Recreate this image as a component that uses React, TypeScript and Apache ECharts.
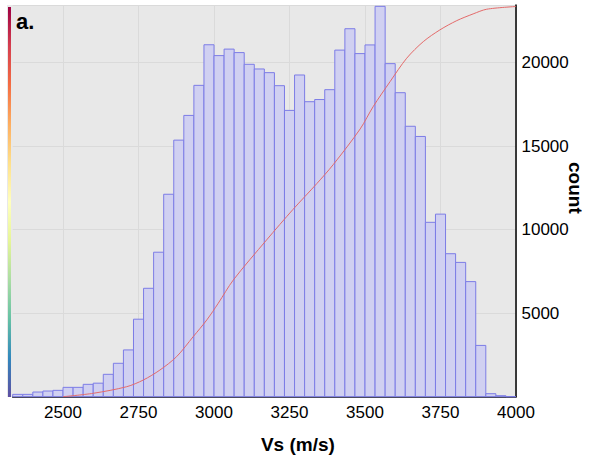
import React, { useEffect, useRef } from "react";
import * as echarts from "echarts";

// Histogram bins: 50 bins of width 33.33 m/s starting at 2333.33
const binStart = 2333.33;
const binWidth = 33.3334;
const counts = [
  140, 140, 280, 340, 380, 560, 560, 740, 810, 1340,
  2000, 2800, 4640, 6490, 8650, 12120, 15360, 16840, 18640, 21070,
  20420, 20810, 20600, 19900, 19620, 19400, 18620, 17140, 19260, 17660,
  17790, 18380, 20750, 22030, 20540, 21060, 23370, 19940, 18200, 16190,
  15580, 10440, 10930, 8560, 8040, 6890, 3070, 180, 60, 0,
];

// Cumulative curve
const cdfX = [2500, 2600, 2711, 2766, 2821, 2876, 2931, 2976, 3014, 3064, 3174, 3262, 3340, 3395, 3484, 3527, 3583, 3638, 3693, 3748, 3804, 3858, 3903, 4000];
const cdfY = [0, 204, 599, 1000, 1599, 2395, 3593, 4593, 5593, 6988, 9383, 11220, 12750, 13900, 16030, 17365, 18862, 20263, 21257, 21960, 22515, 22916, 23197, 23360];

const xTicks = [2500, 2750, 3000, 3250, 3500, 3750, 4000];
const xMin = 2333.33;
const xMax = 4000;
const yMax = 23450;
const yStep = 5000;

const spectral = ["#9e0142", "#d53e4f", "#f46d43", "#fdae61", "#fee08b", "#ffffbf", "#e6f598", "#abdda4", "#66c2a5", "#3288bd", "#5e4fa2"];

export default function App() {
  const ref = useRef<HTMLDivElement>(null);
  useEffect(() => {
    const chart = echarts.init(ref.current!, null, { renderer: "svg" });
    const bars = counts.map((c, i) => [binStart + i * binWidth, binStart + (i + 1) * binWidth, c]);
    const line = cdfX.map((x, i) => [x, cdfY[i]]);
    const font = "Liberation Sans";
    const fmt = (v: number) => String(Math.round(v));
    chart.setOption({
      animation: false,
      grid: {
        left: 12.7, right: 78, top: 5, bottom: 63.3,
        outerBoundsMode: "none", containLabel: false,
        show: true, backgroundColor: "#e8e8e8", borderWidth: 0,
      },
      xAxis: {
        type: "value", min: xMin, max: xMax,
        axisLine: { show: true, lineStyle: { color: "#000", width: 1.5 } },
        axisTick: { show: false, customValues: xTicks },
        axisLabel: { customValues: xTicks, formatter: fmt, fontSize: 17, color: "#000", fontFamily: font, margin: 7 },
        splitLine: { show: true, lineStyle: { color: "#dadada", width: 1 } },
        name: "Vs (m/s)", nameLocation: "middle", nameGap: 38,
        nameTextStyle: { fontSize: 19, fontWeight: "bold", color: "#000", fontFamily: font, padding: [0, 0, 0, 67] },
      },
      yAxis: {
        type: "value", position: "right", min: 0, max: yMax, interval: yStep,
        axisLine: { show: true, lineStyle: { color: "#000", width: 1.5 } },
        axisTick: { show: false },
        axisLabel: { formatter: fmt, fontSize: 17, color: "#000", fontFamily: font, margin: 5.5, showMinLabel: false, showMaxLabel: false },
        splitLine: { show: true, lineStyle: { color: "#dadada", width: 1 } },
        name: "count", nameLocation: "middle", nameRotate: -90, nameGap: 50, nameMoveOverlap: false,
        nameTextStyle: { fontSize: 19, fontWeight: "bold", color: "#000", fontFamily: font, padding: [0, 26, 0, 0] },
      },
      graphic: [
        { type: "rect", z: -1, shape: { x: 7, y: 5, width: 6, height: 392 }, style: { fill: "#e8e8e8" } },
        {
          type: "rect", z: 10, shape: { x: 8, y: 7, width: 3, height: 390 },
          style: {
            fill: new echarts.graphic.LinearGradient(0, 0, 0, 1,
              spectral.map((c, i) => ({ offset: i / (spectral.length - 1), color: c }))),
          },
        },
        {
          type: "text", z: 10, x: 16, y: 21,
          style: { text: "a.", fontSize: 22, fontWeight: "bold", fontFamily: font, fill: "#000", verticalAlign: "middle" },
        },
      ],
      series: [
        {
          type: "custom",
          data: bars,
          encode: { x: [0, 1], y: 2 },
          renderItem: (params: any, api: any) => {
            const p0 = api.coord([api.value(0), api.value(2)]);
            const p1 = api.coord([api.value(1), 0]);
            return {
              type: "rect",
              shape: { x: p0[0], y: p0[1], width: p1[0] - p0[0], height: p1[1] - p0[1] },
              style: { fill: "#d0d0f1", stroke: "#7c7ce6", lineWidth: 1 },
            };
          },
          z: 2,
        },
        {
          type: "line",
          data: line,
          showSymbol: false,
          smooth: 0.3,
          lineStyle: { color: "#e36a6a", width: 1 },
          z: 3,
        },
      ],
    });
    return () => chart.dispose();
  }, []);
  return <div ref={ref} style={{ position: "absolute", left: 0, top: 0, width: 594, height: 460 }} />;
}
